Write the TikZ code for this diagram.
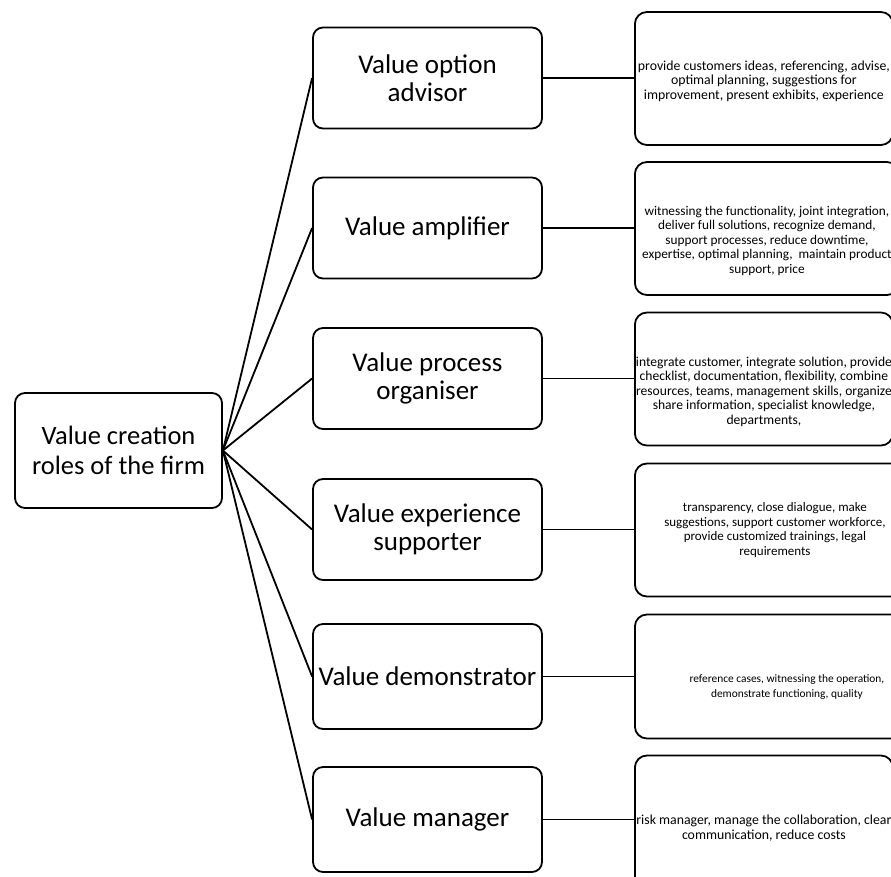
\documentclass[tikz,border=0pt]{standalone}
\usepackage{fontspec}
\setmainfont{Carlito}

\begin{document}
\begin{tikzpicture}[x=1pt,y=-1pt,
  rolebox/.style={draw,line width=1.8pt,rounded corners=10pt,inner sep=0pt,align=center},
  rootbox/.style={rolebox,minimum width=207pt,minimum height=115pt,font=\fontsize{26.5}{29.5}\selectfont},
  mainbox/.style={rolebox,minimum width=229pt,minimum height=101pt,font=\fontsize{27}{28.5}\selectfont},
  detailbox/.style={rolebox,anchor=west,minimum width=258pt,minimum height=133pt,rounded corners=12pt,font=\fontsize{13.8}{14.5}\selectfont},
  link/.style={line width=1.8pt}]
\path[use as bounding box] (0,0) rectangle (891,876);
\clip (0,0) rectangle (891,876);
\node[rootbox] (root) at (118.5,450.5) {Value creation\\roles of the firm};
\node[mainbox] (advisor) at (427.5,78) {Value option\\advisor};
\node[mainbox] (amplifier) at (427.5,228) {Value amplifier};
\node[mainbox] (organiser) at (427.5,378.5) {Value process\\organiser};
\node[mainbox] (supporter) at (427.5,529.5) {Value experience\\supporter};
\node[mainbox,minimum height=105pt] (demonstrator) at (427.5,676.5) {Value demonstrator};
\node[mainbox,minimum height=105pt] (manager) at (427.5,819.5) {Value manager};
% the struts push the text down as in the original boxes
\node[detailbox] (advisorfacts) at (634,78.5) {\rule{0pt}{15pt}provide customers ideas, referencing, advise,\\optimal planning, suggestions for\\improvement, present exhibits, experience};
\node[detailbox,minimum width=264pt,font=\fontsize{13.3}{14.5}\selectfont] (amplifierfacts) at (634,228.5) {\rule{0pt}{34pt}witnessing the functionality, joint integration,\\deliver full solutions, recognize demand,\\support processes, reduce downtime,\\expertise, optimal planning,\ \ maintain product\\support, price};
\node[detailbox,font=\fontsize{13.6}{14.5}\selectfont] (organiserfacts) at (634,379) {\rule{0pt}{35pt}integrate customer, integrate solution, provide\\checklist, documentation, flexibility, combine\\resources, teams, management skills, organize\\share information, specialist knowledge,\\departments,};
\node[detailbox,minimum width=280pt,font=\fontsize{13}{14.5}\selectfont] (supporterfacts) at (634,530) {transparency, close dialogue, make\\suggestions, support customer workforce,\\provide customized trainings, legal\\requirements};
\node[detailbox,minimum width=304pt,minimum height=124pt,font=\fontsize{11.4}{15}\selectfont] (demonstratorfacts) at (634,676.5) {\rule{0pt}{28pt}reference cases, witnessing the operation,\\demonstrate functioning, quality};
\node[detailbox] (managerfacts) at (634,822) {\rule{0pt}{22pt}risk manager, manage the collaboration, clear\\communication, reduce costs};
% links from the firm to the roles
\foreach \role in {advisor,amplifier,organiser,supporter,demonstrator,manager}
  \draw[link] (root.east) -- (\role.west);
% links from the roles to their facts
\foreach \role in {advisor,amplifier,organiser,supporter,demonstrator,manager}
  \draw[link] (\role.east) -- (\role.east -| \role facts.west);
\end{tikzpicture}
\end{document}
